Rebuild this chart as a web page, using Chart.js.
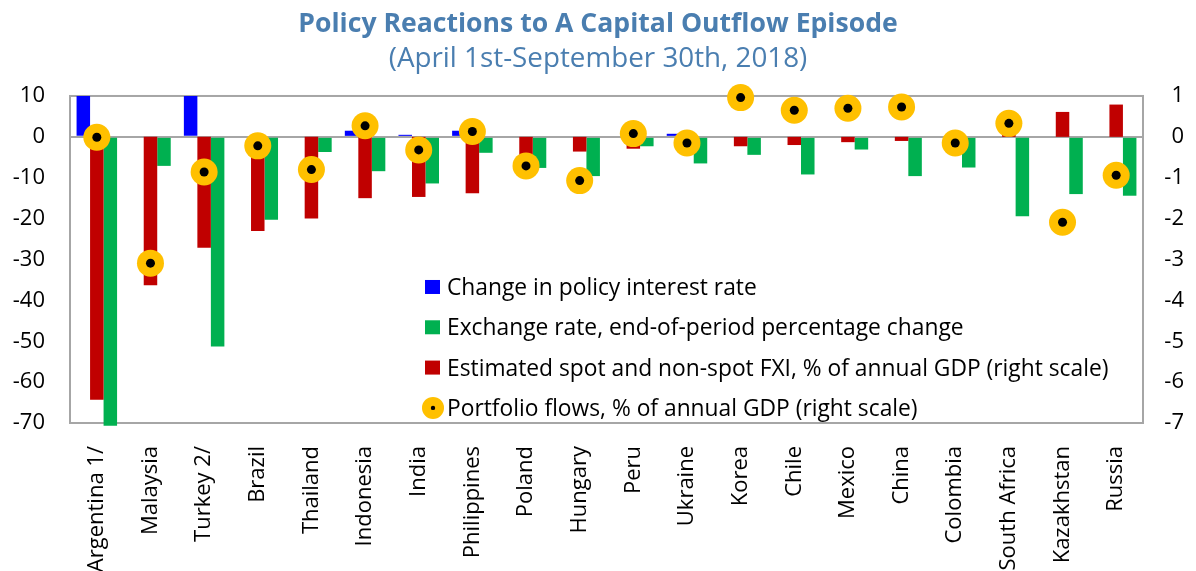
<!DOCTYPE html>
<html><head><meta charset="utf-8">
<script src="https://cdn.jsdelivr.net/npm/chart.js@4.4.1/dist/chart.umd.min.js"></script>
<style>html,body{margin:0;padding:0;background:#fff;overflow:hidden}</style>
</head><body>
<canvas id="c" width="1196" height="571"></canvas>
<script>
const categories = ["Argentina 1/","Malaysia","Turkey 2/","Brazil","Thailand","Indonesia","India","Philippines","Poland","Hungary","Peru","Ukraine","Korea","Chile","Mexico","China","Colombia","South Africa","Kazakhstan","Russia"];
const policyRate   = [37.75, 0, 16.25, 0, 0, 1.5, 0.5, 1.5, 0, 0, 0, 0.75, 0, 0, 0.25, 0, 0, 0, -0.25, 0.25];
const exchangeRate = [-70.7, -7.1, -51.3, -20.3, -3.7, -8.4, -11.4, -3.9, -7.6, -9.6, -2.3, -6.5, -4.4, -9.2, -3.1, -9.6, -7.5, -19.4, -14.0, -14.4];
const fxi          = [-6.43, -3.63, -2.71, -2.3, -2.0, -1.5, -1.47, -1.38, -0.6, -0.36, -0.29, -0.1, -0.23, -0.2, -0.13, -0.1, -0.05, 0.1, 0.61, 0.79];
const portfolio    = [-0.01, -3.09, -0.86, -0.22, -0.8, 0.27, -0.32, 0.13, -0.71, -1.07, 0.08, -0.15, 0.96, 0.65, 0.70, 0.73, -0.15, 0.33, -2.09, -0.94];
const leftTicks  = [10, 0, -10, -20, -30, -40, -50, -60, -70];
const rightTicks = [1, 0, -1, -2, -3, -4, -5, -6, -7];

Chart.defaults.font.family = "'Open Sans', sans-serif";
Chart.defaults.color = '#000';

const frame = {
  id: 'frame',
  beforeDatasetsDraw(chart) {
    const {ctx, chartArea: a} = chart;
    ctx.save();
    ctx.strokeStyle = '#A6A6A6';
    ctx.lineWidth = 2;
    ctx.strokeRect(a.left, a.top, a.right - a.left, a.bottom - a.top);
    ctx.restore();
  }
};

const customLegend = {
  id: 'customLegend',
  afterDraw(chart) {
    const {ctx, chartArea: a} = chart;
    const ds = chart.data.datasets;
    const items = [
      {label: ds[0].label, color: ds[0].backgroundColor, type: 'rect'},
      {label: ds[2].label, color: ds[2].backgroundColor, type: 'rect'},
      {label: ds[1].label, color: ds[1].backgroundColor, type: 'rect'},
      {label: ds[3].label, color: ds[3].backgroundColor, type: 'circle'}
    ];
    ctx.save();
    ctx.font = "22.8px 'Open Sans', sans-serif";
    ctx.textBaseline = 'alphabetic';
    ctx.textAlign = 'left';
    items.forEach((it, i) => {
      const cy = a.top + 191 + i * 40.3;
      if (it.type === 'rect') {
        ctx.fillStyle = it.color;
        ctx.fillRect(a.left + 355, cy - 7, 15, 14);
      } else {
        ctx.fillStyle = it.color;
        ctx.beginPath(); ctx.arc(a.left + 363, cy, 11, 0, Math.PI * 2); ctx.fill();
        ctx.fillStyle = '#000';
        ctx.beginPath(); ctx.arc(a.left + 363, cy, 2.2, 0, Math.PI * 2); ctx.fill();
      }
      ctx.fillStyle = '#000';
      ctx.fillText(it.label, a.left + 377, cy + 8.2);
    });
    ctx.restore();
  }
};

new Chart(document.getElementById('c'), {
  type: 'bar',
  data: {
    labels: categories,
    datasets: [
      {label: 'Change in policy interest rate', data: policyRate, yAxisID: 'y', backgroundColor: '#0000FF', order: 2},
      {label: 'Estimated spot and non-spot FXI, % of annual GDP (right scale)', data: fxi, yAxisID: 'y2', backgroundColor: '#C00000', order: 2},
      {label: 'Exchange rate, end-of-period percentage change', data: exchangeRate, yAxisID: 'y', backgroundColor: '#00B050', order: 2, clip: false},
      {type: 'line', label: 'Portfolio flows, % of annual GDP (right scale)', data: portfolio, yAxisID: 'y2', showLine: false,
        backgroundColor: '#FFC000', pointBackgroundColor: '#FFC000', pointBorderWidth: 0, pointRadius: 13.5, pointHoverRadius: 13.5, order: 1, clip: false},
      {type: 'line', label: 'portfolio-center', data: portfolio, yAxisID: 'y2', showLine: false,
        pointBackgroundColor: '#000', pointBorderWidth: 0, pointRadius: 4.5, pointHoverRadius: 4.5, order: 0, clip: false}
    ]
  },
  options: {
    responsive: false,
    animation: false,
    layout: {padding: {left: 12, right: 12, top: 0, bottom: 0}},
    datasets: {bar: {categoryPercentage: 0.755, barPercentage: 1.0}},
    plugins: {
      legend: {display: false},
      tooltip: {enabled: false},
      title: {display: true, text: 'Policy Reactions to A Capital Outflow Episode', color: '#4A7EB0',
        font: {size: 26.6, weight: 'bold'}, padding: {top: 8, bottom: 2}},
      subtitle: {display: true, text: '(April 1st-September 30th, 2018)', color: '#4A7EB0',
        font: {size: 27.8, weight: 'normal'}, padding: {top: 0, bottom: 20.7}}
    },
    scales: {
      x: {
        grid: {display: false}, border: {display: false},
        ticks: {font: {size: 22}, color: '#000', maxRotation: 90, minRotation: 90, autoSkip: false, padding: 15},
        afterFit: s => { s.height = 148; s.paddingLeft = 0; s.paddingRight = 0; }
      },
      y: {
        position: 'left', min: -70, max: 10,
        afterBuildTicks: s => { s.ticks = leftTicks.map(v => ({value: v})); },
        afterFit: s => { s.width = 58; },
        grid: {drawTicks: false, lineWidth: 2, color: c => (c.tick && c.tick.value === 0) ? '#A6A6A6' : 'rgba(0,0,0,0)'},
        border: {display: false},
        ticks: {font: {size: 22}, color: '#000', padding: 25}
      },
      y2: {
        position: 'right', min: -7, max: 1,
        afterBuildTicks: s => { s.ticks = rightTicks.map(v => ({value: v})); },
        afterFit: s => { s.width = 41; },
        grid: {display: false, drawTicks: false}, border: {display: false},
        ticks: {font: {size: 22}, color: '#000', padding: 25, crossAlign: 'far'}
      }
    }
  },
  plugins: [frame, customLegend]
});
</script>
</body></html>
